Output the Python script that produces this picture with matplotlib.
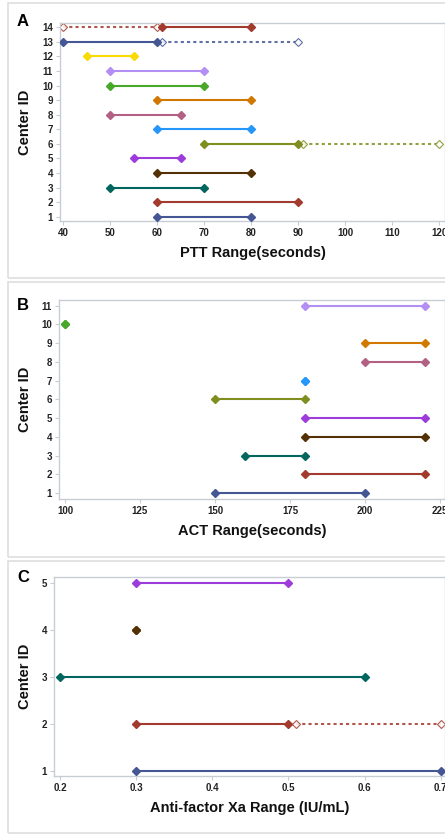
import matplotlib
matplotlib.use("Agg")
import matplotlib.pyplot as plt
from matplotlib.patches import Rectangle

plt.rcParams['font.family'] = ['Liberation Sans', 'DejaVu Sans']

# ---- Data ----
colors = ['#445694', '#A23A2E', '#01665E', '#543005', '#9D3CDB', '#7F8E1F',
          '#2597FA', '#B26084', '#D17800', '#47A82A', '#B38EF3', '#F9DA04',
          '#445694', '#A23A2E']

ptt_ids = [1, 2, 3, 4, 5, 6, 7, 8, 9, 10, 11, 12, 13, 14]
ptt_low = [60, 60, 50, 60, 55, 70, 60, 50, 60, 50, 50, 45, 40, 61]
ptt_high = [80, 90, 70, 80, 65, 90, 80, 65, 80, 70, 70, 55, 60, 80]
ptt_ext_ids = [6, 13, 14]
ptt_ext_low = [91, 61, 40]
ptt_ext_high = [120, 90, 60]
ptt_ticks = [40, 50, 60, 70, 80, 90, 100, 110, 120]

act_ids = [1, 2, 3, 4, 5, 6, 7, 8, 9, 10, 11]
act_low = [150, 180, 160, 180, 180, 150, 180, 200, 200, 100, 180]
act_high = [200, 220, 180, 220, 220, 180, 180, 220, 220, 100, 220]
act_ext_ids = []
act_ext_low = []
act_ext_high = []
act_ticks = [100, 125, 150, 175, 200, 225]

xa_ids = [1, 2, 3, 4, 5]
xa_low = [0.3, 0.3, 0.2, 0.3, 0.3]
xa_high = [0.7, 0.5, 0.6, 0.3, 0.5]
xa_ext_ids = [2]
xa_ext_low = [0.51]
xa_ext_high = [0.7]
xa_ticks = [0.2, 0.3, 0.4, 0.5, 0.6, 0.7]
xa_ticklabels = ['0.2', '0.3', '0.4', '0.5', '0.6', '0.7']

W, H = 445, 835
fig = plt.figure(figsize=(W / 100, H / 100), dpi=100)
fig.patch.set_facecolor('white')

def fx(px):
    return px / W

def fy(py):
    return 1 - py / H

# panel borders
for top, bot in [(3, 278), (282, 557), (561, 833)]:
    fig.patches.append(Rectangle((fx(8), fy(bot)), fx(460) - fx(8), fy(top) - fy(bot),
                                 transform=fig.transFigure, fill=False,
                                 edgecolor='#dedede', linewidth=1.2, zorder=0))

def panel(rect, ids, low, high, ext_ids, ext_low, ext_high, xlim, ylim,
          xticks, xlabel, letter, letter_pos, xticklabels=None):
    left, top, bottom = rect
    ax = fig.add_axes([fx(left), fy(bottom), 1 - fx(left), fy(top) - fy(bottom)])
    for i, lo, hi in zip(ids, low, high):
        c = colors[i - 1]
        ax.plot([lo, hi], [i, i], color=c, lw=1.5, marker='D', ms=3.6,
                markerfacecolor=c, markeredgecolor=c, solid_capstyle='butt', zorder=3)
    for i, lo, hi in zip(ext_ids, ext_low, ext_high):
        c = colors[i - 1]
        ax.plot([lo, hi], [i, i], color=c, lw=1.5, ls=(0, (1.5, 1.5)), alpha=0.85,
                marker='D', ms=3.6, markerfacecolor='white', markeredgecolor=c,
                markeredgewidth=0.8, zorder=2)
    ax.set_xlim(*xlim)
    ax.set_ylim(*ylim)
    ax.set_xticks(xticks)
    if xticklabels is not None:
        ax.set_xticklabels(xticklabels)
    ax.set_yticks(ids)
    for s in ax.spines.values():
        s.set_color('#c8ccd4')
        s.set_linewidth(1.0)
    ax.tick_params(axis='both', colors='#c8ccd4', length=3, width=0.8,
                   labelcolor='#222222', labelsize=7, pad=2)
    for lab in ax.get_xticklabels() + ax.get_yticklabels():
        lab.set_fontweight('bold')
    ax.set_xlabel(xlabel, fontsize=10.5, fontweight='bold', color='#111111', labelpad=6)
    ax.set_ylabel('Center ID', fontsize=10.5, fontweight='bold', color='#111111', labelpad=7)
    fig.text(fx(letter_pos[0]), fy(letter_pos[1]), letter, fontsize=12,
             fontweight='bold', ha='center', va='center')
    return ax

panel((60, 23, 221), ptt_ids, ptt_low, ptt_high, ptt_ext_ids, ptt_ext_low, ptt_ext_high,
      (39.3, 121.2), (0.7, 14.3), ptt_ticks, 'PTT Range(seconds)', 'A', (23, 22))
panel((59, 300, 499), act_ids, act_low, act_high, act_ext_ids, act_ext_low, act_ext_high,
      (98.0, 226.7), (0.68, 11.3), act_ticks, 'ACT Range(seconds)', 'B', (23, 305))
panel((54, 577, 776), xa_ids, xa_low, xa_high, xa_ext_ids, xa_ext_low, xa_ext_high,
      (0.192, 0.7057), (0.887, 5.13), xa_ticks, 'Anti-factor Xa Range (IU/mL)', 'C',
      (23, 577), xticklabels=xa_ticklabels)

fig.savefig('out.png', dpi=100, facecolor='white')
